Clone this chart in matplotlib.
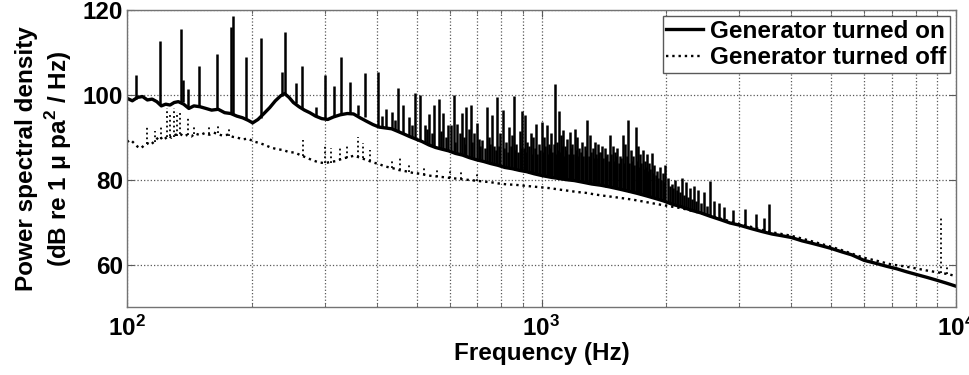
import matplotlib
matplotlib.use("Agg")
import matplotlib.pyplot as plt

plt.rcParams['font.family'] = ['Liberation Sans', 'DejaVu Sans']
plt.rcParams['font.weight'] = 'bold'
plt.rcParams['axes.labelweight'] = 'bold'
plt.rcParams['mathtext.fontset'] = 'custom'
plt.rcParams['mathtext.rm'] = 'Liberation Sans:bold'
plt.rcParams['mathtext.bf'] = 'Liberation Sans:bold'

# generator on: background level (Hz, dB)
on_f = [100, 103, 106, 109, 112, 115, 118, 121, 124, 127,
        130, 133, 137, 141, 145, 150, 155, 160, 166, 172,
        178, 184, 190, 196, 201, 207, 214, 221, 228, 235,
        240, 246, 252, 260, 268, 276, 285, 295, 305, 315,
        327, 340, 352, 365, 378, 392, 406, 420, 435, 450,
        465, 480, 497, 515, 535, 555, 575, 597, 620, 645,
        670, 697, 725, 755, 785, 815, 850, 885, 920, 960,
        1000, 1050, 1100, 1150, 1200, 1260, 1320, 1390, 1460, 1540,
        1620, 1700, 1790, 1880, 1970, 2070, 2180, 2300, 2420, 2550,
        2700, 2850, 3000, 3200, 3400, 3600, 3800, 4000, 4250, 4500,
        4750, 5000, 5300, 5600, 6000, 6400, 6800, 7200, 7600, 8000,
        8500, 9000, 9500, 10000]
on_db = [99.2, 98.6, 99.4, 99.6, 98.8, 99.0, 98.4, 97.4, 97.8, 97.6,
         98.2, 98.4, 97.8, 96.8, 97.4, 97.2, 96.8, 96.4, 96.6, 95.8,
         95.6, 95.0, 94.6, 94.0, 93.4, 94.2, 95.6, 97.0, 98.6, 99.8,
         100.3, 99.4, 98.2, 97.2, 96.4, 95.8, 95.0, 94.4, 94.2, 94.8,
         95.3, 95.6, 95.5, 94.6, 93.8, 93.0, 92.4, 92.2, 92.0, 91.4,
         90.8, 90.2, 89.6, 89.0, 88.2, 87.6, 87.2, 86.8, 86.2, 85.8,
         85.2, 84.7, 84.3, 83.8, 83.4, 82.9, 82.6, 82.2, 81.9, 81.4,
         81.0, 80.6, 80.3, 80.0, 79.8, 79.4, 79.0, 78.7, 78.3, 77.8,
         77.3, 76.8, 76.2, 75.6, 75.0, 74.2, 73.6, 72.8, 72.2, 71.4,
         70.6, 69.8, 69.3, 68.5, 67.8, 67.2, 66.8, 66.4, 65.6, 65.0,
         64.4, 63.8, 63.0, 62.3, 61.0, 60.3, 59.6, 59.0, 58.3, 57.7,
         57.0, 56.3, 55.6, 54.9]

# generator on: tonal peaks (frequency, foot, tip)
on_peak_f = [105, 120, 135, 136.5, 140, 149, 165, 178.5, 180.5, 194,
             210, 236, 240, 255, 265, 285, 300, 315, 328, 345,
             360, 375, 404, 412, 421, 435, 442, 450, 464, 479,
             488, 495, 510, 523, 530, 536, 545, 551, 566, 573,
             580, 588, 595, 605, 614, 627, 635, 642, 650, 658,
             667, 676, 688, 699, 705, 720, 738, 745, 759, 770,
             780, 795, 806, 820, 836, 848, 859, 870, 885, 898,
             913, 925, 942, 955, 968, 985, 1000, 1012, 1029, 1040,
             1055, 1076, 1088, 1101, 1115, 1129, 1140, 1155, 1172, 1185,
             1206, 1220, 1235, 1250, 1270, 1291, 1310, 1330, 1348, 1365,
             1380, 1400, 1420, 1440, 1464, 1485, 1505, 1525, 1545, 1570,
             1590, 1618, 1640, 1660, 1690, 1710, 1730, 1755, 1775, 1800,
             1820, 1845, 1870, 1900, 1930, 1960, 1987, 2020, 2060, 2100,
             2140, 2185, 2230, 2280, 2330, 2390, 2470, 2545, 2600, 2680,
             2760, 2900, 3100, 3300, 3450, 3540]
on_peak_hi = [104.7, 112.8, 115.5, 103.5, 101.3, 106.7, 109.6, 116.0, 118.7, 108.9,
              113.4, 105.5, 114.9, 102.9, 106.9, 97.2, 104.7, 102.0, 109.0, 103.1,
              97.5, 105.1, 105.5, 95.0, 96.6, 96.0, 94.0, 101.6, 97.5, 94.7,
              93.0, 100.4, 100.0, 93.0, 92.0, 95.5, 91.0, 97.7, 99.0, 91.5,
              95.7, 90.0, 92.9, 93.0, 100.0, 93.1, 91.0, 95.7, 90.0, 97.1,
              92.0, 97.6, 91.0, 93.3, 89.5, 89.4, 97.2, 90.0, 95.3, 88.0,
              99.6, 91.0, 96.4, 89.0, 92.5, 90.5, 99.8, 88.5, 91.5, 96.1,
              95.3, 89.0, 91.0, 90.0, 93.1, 88.5, 93.7, 90.0, 92.9, 88.5,
              91.0, 102.6, 89.0, 96.3, 90.5, 91.7, 88.0, 89.5, 91.3, 88.5,
              92.0, 90.0, 87.5, 89.0, 88.0, 94.0, 90.5, 87.5, 89.0, 88.5,
              86.5, 88.0, 87.5, 86.0, 90.6, 88.0, 86.5, 87.5, 85.5, 90.6,
              88.5, 94.0, 87.0, 85.5, 92.5, 88.0, 86.0, 87.0, 84.5, 86.0,
              84.0, 86.2, 83.5, 82.0, 83.0, 81.5, 83.5, 80.5, 79.0, 80.0,
              78.5, 80.4, 79.5, 78.0, 78.5, 77.5, 77.0, 79.6, 75.0, 74.5,
              73.5, 72.8, 73.2, 72.0, 71.0, 74.2]
on_peak_lo = [99.0, 97.6, 98.2, 98.2, 97.0, 97.2, 96.5, 95.6, 95.6, 94.2,
              94.6, 99.8, 100.2, 98.0, 96.6, 95.0, 94.3, 94.8, 95.3, 95.6,
              95.2, 94.8, 92.5, 92.3, 92.2, 92.0, 91.7, 91.4, 90.8, 90.2,
              89.9, 89.6, 89.1, 88.7, 88.4, 88.2, 87.9, 87.7, 87.4, 87.3,
              87.1, 87.0, 86.8, 86.6, 86.4, 86.1, 86.0, 85.8, 85.6, 85.5,
              85.2, 85.1, 84.9, 84.7, 84.6, 84.3, 84.1, 84.0, 83.8, 83.6,
              83.4, 83.2, 83.0, 82.9, 82.7, 82.6, 82.5, 82.3, 82.2, 82.1,
              82.0, 81.9, 81.6, 81.5, 81.3, 81.2, 81.0, 80.9, 80.8, 80.7,
              80.6, 80.5, 80.4, 80.3, 80.2, 80.1, 80.1, 80.0, 79.9, 79.9,
              79.8, 79.7, 79.6, 79.5, 79.4, 79.2, 79.1, 79.0, 78.9, 78.8,
              78.7, 78.6, 78.5, 78.4, 78.3, 78.2, 78.0, 77.9, 77.8, 77.7,
              77.5, 77.3, 77.2, 77.1, 76.9, 76.7, 76.6, 76.5, 76.4, 76.2,
              76.1, 75.9, 75.7, 75.5, 75.3, 75.1, 74.9, 74.6, 74.3, 74.0,
              73.8, 73.5, 73.3, 73.0, 72.7, 72.4, 72.0, 71.5, 71.3, 70.9,
              70.5, 69.7, 68.9, 68.2, 67.7, 67.4]

# generator on: the dense short lines between 600 Hz and 2.5 kHz
on_dense_f = [620, 655, 680, 712, 730, 752, 775, 788, 812, 828,
              842, 865, 878, 892, 905, 918, 935, 948, 962, 978,
              992, 1006, 1020, 1034, 1048, 1062, 1070, 1082, 1095, 1108,
              1122, 1135, 1148, 1163, 1178, 1193, 1213, 1228, 1242, 1260,
              1280, 1300, 1320, 1340, 1356, 1372, 1390, 1410, 1430, 1452,
              1475, 1495, 1515, 1535, 1558, 1580, 1605, 1630, 1650, 1675,
              1700, 1720, 1742, 1765, 1788, 1810, 1832, 1858, 1885, 1915,
              1945, 1975, 2040, 2080, 2120, 2160, 2205, 2255, 2305, 2360,
              2430, 2510]
on_dense_hi = [89.0, 88.5, 89.0, 88.0, 87.5, 88.5, 87.0, 88.0, 87.5, 86.5,
               88.0, 87.0, 86.5, 87.5, 87.5, 86.5, 88.0, 86.0, 87.5, 86.0,
               87.0, 86.5, 88.0, 86.0, 87.5, 86.5, 88.5, 86.0, 87.0, 86.5,
               88.0, 85.5, 87.0, 86.0, 87.5, 86.0, 87.0, 85.5, 86.5, 85.5,
               87.0, 85.5, 86.5, 85.0, 86.0, 85.0, 86.5, 85.0, 85.5, 84.5,
               86.0, 84.5, 85.5, 84.0, 85.0, 84.0, 85.5, 84.0, 84.5, 83.5,
               84.5, 83.0, 84.0, 82.5, 83.0, 82.0, 82.5, 81.5, 81.0, 80.5,
               80.0, 79.5, 78.5, 78.0, 77.5, 77.0, 76.5, 76.0, 75.5, 75.0,
               74.5, 73.8]
on_dense_lo = [86.2, 85.5, 85.0, 84.5, 84.2, 83.9, 83.5, 83.4, 83.0, 82.8,
               82.7, 82.4, 82.3, 82.2, 82.0, 81.9, 81.7, 81.6, 81.4, 81.3,
               81.1, 81.0, 80.9, 80.8, 80.6, 80.5, 80.5, 80.4, 80.3, 80.3,
               80.2, 80.1, 80.0, 80.0, 79.9, 79.8, 79.7, 79.6, 79.5, 79.4,
               79.3, 79.2, 79.0, 78.9, 78.8, 78.8, 78.7, 78.5, 78.4, 78.3,
               78.2, 78.1, 78.0, 77.8, 77.7, 77.6, 77.4, 77.2, 77.1, 77.0,
               76.8, 76.7, 76.5, 76.4, 76.2, 76.1, 75.9, 75.8, 75.6, 75.4,
               75.2, 75.0, 74.4, 74.2, 73.9, 73.7, 73.4, 73.1, 72.8, 72.6,
               72.2, 71.7]

# generator off: background level
off_f = [100, 102, 104, 106, 108, 110, 112, 114, 116, 118, 120, 122, 124, 126, 128,
         131, 134, 137, 140, 143, 146,
         150, 154, 158, 162, 166, 170, 175, 180, 185, 190, 196,
         202, 208, 215, 222, 230, 238, 246, 254, 262, 271, 280, 290, 300,
         310, 320, 331, 342, 354, 366, 378, 391, 405, 420, 435, 452, 470, 490,
         510, 532, 555, 580, 605, 632, 660, 690, 720, 755, 790, 825, 865, 905, 950,
         1000, 1050, 1100, 1160, 1220, 1280, 1350, 1420, 1500, 1580, 1660, 1750, 1840, 1940,
         2050, 2170, 2300, 2450, 2600, 2800, 3000, 3200, 3400, 3600, 3800, 4000,
         4300, 4600, 5000, 5300, 5600, 6000, 6500, 7000, 7500, 8000, 8500, 9000, 9500, 10000]
off_db = [88.9, 89.4, 88.6, 87.8, 87.4, 88.1, 88.6, 88.2, 88.9, 89.6, 90.3, 89.3, 89.8, 90.4, 89.9,
          90.6, 90.9, 90.2, 90.6, 90.2, 90.9,
          90.5, 91.0, 90.6, 91.1, 90.7, 90.4, 90.6, 90.1, 89.9, 89.5, 89.7,
          89.0, 88.7, 88.2, 87.6, 87.2, 87.0, 86.5, 86.4, 85.8, 85.2, 84.6, 84.1, 83.9,
          84.2, 84.4, 85.0, 85.3, 85.7, 85.1, 84.7, 84.1, 83.7, 83.1, 82.8, 82.3, 82.0, 81.6,
          81.4, 81.0, 80.8, 80.6, 80.4, 80.2, 80.0, 79.8, 79.6, 79.4, 79.1, 78.9, 78.8, 78.6, 78.4,
          78.2, 78.0, 77.7, 77.4, 77.1, 76.9, 76.5, 76.2, 75.9, 75.6, 75.3, 74.9, 74.5, 74.1,
          73.7, 73.3, 72.7, 72.0, 71.3, 70.4, 69.6, 68.9, 68.2, 67.6, 67.2, 66.8,
          66.0, 65.2, 64.2, 63.4, 62.6, 61.6, 60.8, 60.0, 59.6, 59.1, 58.6, 58.2, 57.8, 57.3]

# generator off: peaks
off_peak_f = [112, 117, 121, 125, 127, 130, 132, 134, 140, 145,
              158, 166, 176, 266, 300, 310, 326, 340, 360, 370,
              385, 435, 455, 478, 520, 560, 600, 640, 700, 9210, 9500]
off_peak_hi = [93.0, 91.5, 92.5, 96.8, 95.5, 97.0, 96.0, 95.8, 95.0, 92.5,
               92.5, 92.8, 92.3, 89.3, 88.2, 87.5, 87.8, 88.5, 90.0, 88.6,
               87.0, 84.6, 85.0, 83.8, 83.3, 82.5, 82.8, 82.3, 81.5, 71.2, 59.5]
off_peak_lo = [88.4, 88.9, 89.5, 90.0, 90.2, 90.0, 90.2, 90.8, 90.5, 90.8,
               90.8, 91.0, 90.4, 85.6, 83.9, 84.0, 84.6, 85.2, 85.4, 85.0,
               84.4, 82.7, 82.2, 81.8, 81.1, 80.6, 80.4, 80.1, 79.7, 58.1, 57.8]

fig = plt.figure(figsize=(9.69, 3.75), dpi=100)
ax = fig.add_axes([127/969, 1 - 307/375, 829/969, 297/375])

ax.plot(off_f, off_db, color='k', linestyle=':', lw=1.7, label='Generator turned off')
ax.vlines(off_peak_f, off_peak_lo, off_peak_hi, color='k', linestyle=':', lw=1.3)
ax.plot(on_f, on_db, color='k', lw=2.4, label='Generator turned on')
ax.vlines(on_peak_f, on_peak_lo, on_peak_hi, color='k', lw=1.8)
ax.vlines(on_dense_f, on_dense_lo, on_dense_hi, color='k', lw=1.8)

ax.set_xscale('log')
ax.set_xlim(100, 10000)
ax.set_ylim(50, 120)
ax.set_xticks([100, 1000, 10000])
ax.set_xticklabels([r'$\mathbf{10^{2}}$', r'$\mathbf{10^{3}}$', r'$\mathbf{10^{4}}$'])
ax.set_yticks([60, 80, 100, 120])

ax.grid(True, which='both', axis='x', color='0.35', linestyle=':', lw=0.9)
ax.grid(True, which='major', axis='y', color='0.35', linestyle=':', lw=0.9)
ax.tick_params(which='both', direction='in', top=True, right=True, labelsize=17.5,
               colors='0.35', labelcolor='k')
ax.tick_params(which='major', length=5, pad=3)
ax.tick_params(axis='x', which='major', pad=6)
ax.tick_params(which='minor', length=3)
for s in ax.spines.values():
    s.set_color('0.45')
    s.set_linewidth(1.0)

ax.set_xlabel('Frequency (Hz)', fontsize=17.5, labelpad=1)
ax.set_ylabel('Power spectral density\n(dB re 1 μ pa$^{\\mathbf{2}}$ / Hz)', fontsize=17.5, labelpad=6)

handles, labels = ax.get_legend_handles_labels()
leg = ax.legend(handles[::-1], labels[::-1], loc='upper right', fontsize=17.5, fancybox=False,
                framealpha=1, edgecolor='0.35', handlelength=1.5, handletextpad=0.3,
                borderpad=0.15, labelspacing=0.15, borderaxespad=0.25)
leg.get_frame().set_linewidth(1.0)

fig.savefig('out.png', dpi=100)
